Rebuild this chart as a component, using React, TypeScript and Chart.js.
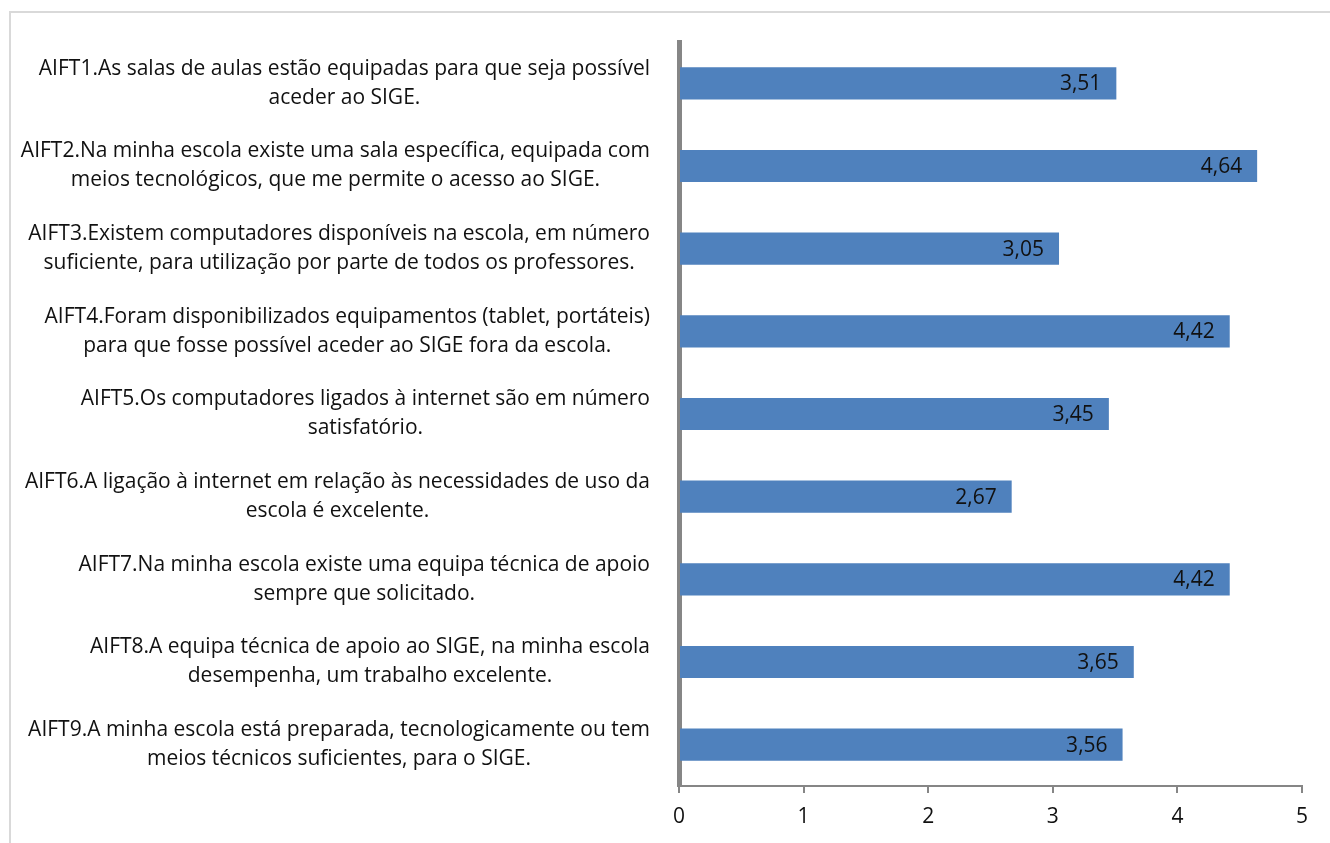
import React, { useEffect, useRef } from "react";
import { Chart, registerables } from "chart.js";

Chart.register(...registerables);

const categories: string[][] = [
  ["AIFT1.As salas de aulas estão equipadas para que seja possível", "aceder ao SIGE."],
  ["AIFT2.Na minha escola existe uma sala específica, equipada com", "meios tecnológicos, que me permite o acesso ao SIGE."],
  ["AIFT3.Existem computadores disponíveis na escola, em número", "suficiente, para utilização por parte de todos os professores."],
  ["AIFT4.Foram disponibilizados equipamentos (tablet, portáteis)", "para que fosse possível aceder ao SIGE fora da escola."],
  ["AIFT5.Os computadores ligados à internet são em número", "satisfatório."],
  ["AIFT6.A ligação à internet em relação às necessidades de uso da", "escola é excelente."],
  ["AIFT7.Na minha escola existe uma equipa técnica de apoio", "sempre que solicitado."],
  ["AIFT8.A equipa técnica de apoio ao SIGE, na minha escola", "desempenha, um trabalho excelente."],
  ["AIFT9.A minha escola está preparada, tecnologicamente ou tem", "meios técnicos suficientes, para o SIGE."],
];

const values: number[] = [3.51, 4.64, 3.05, 4.42, 3.45, 2.67, 4.42, 3.65, 3.56];

const xTicks: number[] = [0, 1, 2, 3, 4, 5];

const FONT_FAMILY = "'Open Sans', 'Noto Sans', sans-serif";
const LABEL_SIZE = 21;
const VALUE_SIZE = 21;
const LABEL_RIGHT = 650;
const LINE_GAP = 29;

const framePlugin = {
  id: "frame",
  beforeDraw(chart: any) {
    const ctx = chart.ctx;
    ctx.save();
    ctx.strokeStyle = "#d9d9d9";
    ctx.lineWidth = 2;
    ctx.beginPath();
    ctx.moveTo(10, chart.height);
    ctx.lineTo(10, 12);
    ctx.lineTo(chart.width, 12);
    ctx.stroke();
    ctx.restore();
  },
};

const labelPlugin = {
  id: "catLabels",
  afterDraw(chart: any) {
    const ctx = chart.ctx;
    const scale = chart.scales.y;
    ctx.save();
    ctx.fillStyle = "#111111";
    ctx.font = `${LABEL_SIZE}px ${FONT_FAMILY}`;
    ctx.textAlign = "center";
    ctx.textBaseline = "middle";
    categories.forEach((lines, i) => {
      const y = scale.getPixelForTick(i);
      const w = Math.max(...lines.map((l) => ctx.measureText(l).width));
      const cx = LABEL_RIGHT - w / 2;
      const n = lines.length;
      lines.forEach((l, j) => {
        ctx.fillText(l, cx, y + (j - (n - 1) / 2) * LINE_GAP);
      });
    });
    ctx.restore();
  },
};

const valuePlugin = {
  id: "valueLabels",
  afterDatasetsDraw(chart: any) {
    const ctx = chart.ctx;
    const meta = chart.getDatasetMeta(0);
    ctx.save();
    ctx.fillStyle = "#111111";
    ctx.font = `${VALUE_SIZE}px ${FONT_FAMILY}`;
    ctx.textAlign = "right";
    ctx.textBaseline = "middle";
    meta.data.forEach((el: any, i: number) => {
      const txt = values[i].toFixed(2).replace(".", ",");
      ctx.fillText(txt, el.x - 15, el.y + 1);
    });
    ctx.restore();
  },
};

export default function App() {
  const ref = useRef<HTMLCanvasElement | null>(null);
  useEffect(() => {
    document.body.style.margin = "0";
    const chart = new Chart(ref.current as HTMLCanvasElement, {
      type: "bar",
      data: {
        labels: categories.map((c) => c.join(" ")),
        datasets: [
          {
            data: values,
            backgroundColor: "#4f81bd",
            borderWidth: 0,
            barPercentage: 0.39,
            categoryPercentage: 1,
          },
        ],
      },
      options: {
        indexAxis: "y",
        animation: false,
        responsive: false,
        devicePixelRatio: 1,
        layout: { padding: { left: 0, right: 28, top: 42, bottom: 0 } },
        plugins: {
          legend: { display: false },
          tooltip: { enabled: false },
        },
        scales: {
          x: {
            min: 0,
            max: 5,
            afterBuildTicks: (scale: any) => {
              scale.ticks = xTicks.map((v) => ({ value: v }));
            },
            afterFit: (scale: any) => {
              scale.height = 57;
            },
            grid: {
              drawOnChartArea: false,
              drawTicks: true,
              tickLength: 7,
              color: "#868686",
              lineWidth: 2,
            },
            border: { display: true, color: "#868686", width: 2 },
            ticks: {
              padding: 11,
              color: "#111111",
              font: { family: FONT_FAMILY, size: VALUE_SIZE },
            },
          },
          y: {
            afterFit: (scale: any) => {
              scale.width = 679;
            },
            grid: { drawOnChartArea: false, drawTicks: false, color: "rgba(0,0,0,0)" },
            border: { display: true, color: "#868686", width: 5 },
            ticks: { display: false },
          },
        },
      },
      plugins: [framePlugin, labelPlugin, valuePlugin],
    });
    return () => chart.destroy();
  }, []);
  return (
    <div style={{ width: 1330, height: 843, background: "#ffffff" }}>
      <canvas ref={ref} width={1330} height={843} style={{ display: "block" }} />
    </div>
  );
}
